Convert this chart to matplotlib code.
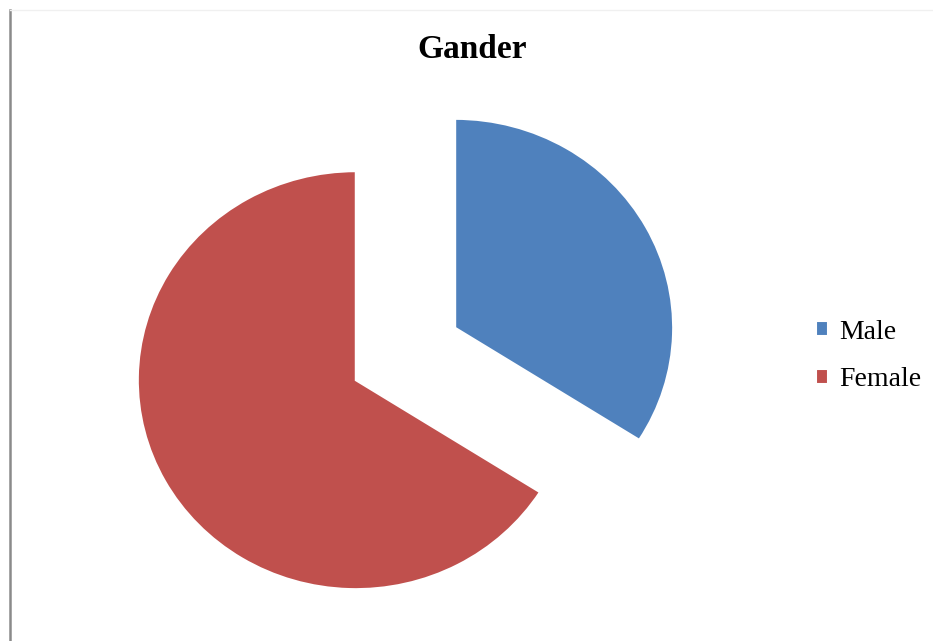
import matplotlib
matplotlib.use("Agg")
import matplotlib.pyplot as plt
from matplotlib.lines import Line2D

labels = ["Male", "Female"]
shares = [34, 66]
colors = ["#4F81BD", "#C0504D"]
explode = [0.26, 0.26]

fig = plt.figure(figsize=(9.33, 6.41), dpi=100)
ax = fig.add_axes([0.0841, 0.0239, 0.701, 0.8477])

wedges, _ = ax.pie(shares, colors=colors, explode=explode, startangle=90,
                   counterclock=False,
                   wedgeprops=dict(edgecolor="white", linewidth=1.5))
ax.set_aspect("auto")
ax.set_xlim(-1.5, 1.5)
ax.set_ylim(-1.3, 1.3)
ax.axis("off")

fig.text(0.506, 1 - 49 / 641, "Gander", ha="center", va="center",
         fontsize=24, fontweight="bold", family="Liberation Serif")

fig.legend(wedges, labels, loc="center left",
           bbox_to_anchor=(802 / 933, 1 - 356 / 641), frameon=False,
           prop=dict(family="Liberation Serif", size=20),
           handlelength=0.45, handleheight=0.45, handletextpad=0.4,
           labelspacing=0.82, borderpad=0)

# chart frame remnants
fig.add_artist(Line2D([10 / 933, 10 / 933], [0, 1 - 10 / 641],
                      color="#8a8a8a", linewidth=1.8))
fig.add_artist(Line2D([10 / 933, 1], [1 - 10 / 641, 1 - 10 / 641],
                      color="#f0f0f0", linewidth=1))

fig.savefig("out.png", dpi=100)
